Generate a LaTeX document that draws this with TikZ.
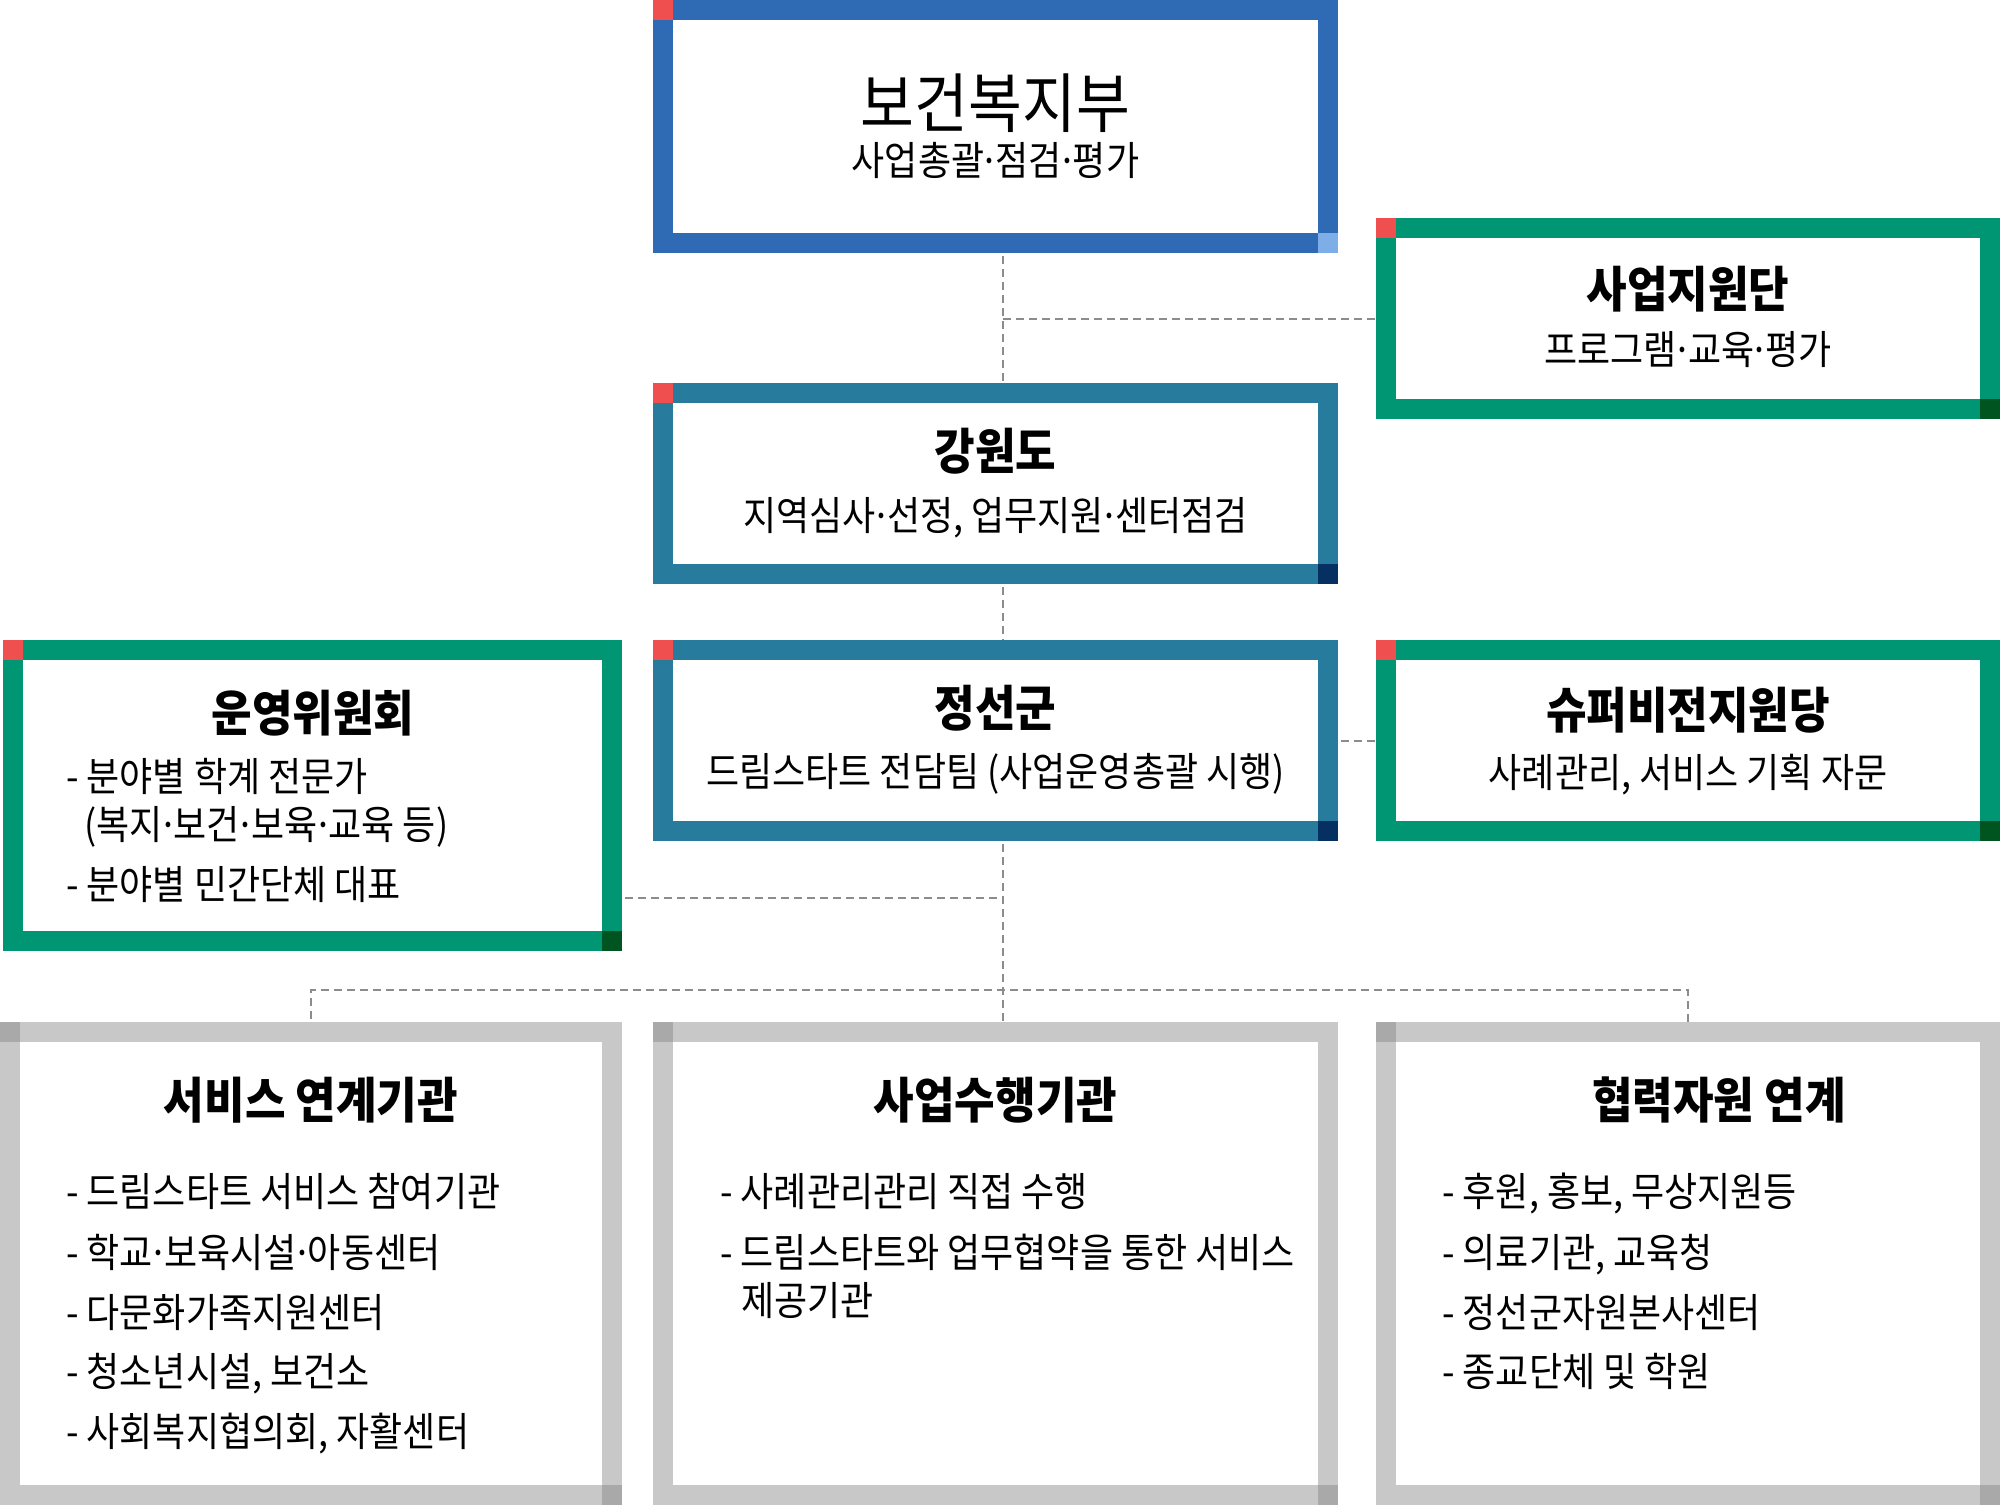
\documentclass[tikz,border=0pt]{standalone}
\usepackage{fontspec}
\setmainfont{Noto Sans CJK KR}[FakeStretch=0.9]
\usetikzlibrary{backgrounds,calc}
\definecolor{cblue}{HTML}{2F6BB5}
\definecolor{clblue}{HTML}{7EAEE8}
\definecolor{cteal}{HTML}{277C9E}
\definecolor{cnavy}{HTML}{062F62}
\definecolor{cgreen}{HTML}{009674}
\definecolor{cdgreen}{HTML}{00541F}
\definecolor{cred}{HTML}{F04F4F}
\definecolor{cgray}{HTML}{C8C8C8}
\definecolor{cdgray}{HTML}{A9A9A9}
\definecolor{cline}{HTML}{8C8C8C}
\newcommand\mdot{\makebox[0.28em]{·}}
\newcommand\mycorners[3]{%
  \fill[#2] ($(#1.north west)+(-10,-10)$) rectangle ++(20,20);
  \fill[#3] ($(#1.south east)+(-10,-10)$) rectangle ++(20,20);}
\tikzset{
  frame/.style={draw=#1, line width=20pt, fill=white, inner sep=0pt, outer sep=0pt},
  ttl/.style={inner sep=0pt, anchor=base, font=\bfseries\fontsize{49}{52}\selectfont},
  sub/.style={inner sep=0pt, anchor=base, font=\fontsize{40}{44}\selectfont},
  item/.style={inner sep=0pt, anchor=base west, font=\fontsize{40}{44}\selectfont},
  conn/.style={draw=cline, line width=2pt, dash pattern=on 8pt off 5pt}
}
\begin{document}
\begin{tikzpicture}[x=1pt,y=-1pt]
\useasboundingbox (0,0) rectangle (2004,1505);
% boxes
\node[frame=cblue, minimum width=665pt, minimum height=233pt] (mohw) at (995.5,126.5) {};
\node[frame=cgreen, minimum width=604pt, minimum height=181pt] (saup) at (1688,318.5) {};
\node[frame=cteal, minimum width=665pt, minimum height=181pt] (gw) at (995.5,483.5) {};
\node[frame=cteal, minimum width=665pt, minimum height=181pt] (js) at (995.5,740.5) {};
\node[frame=cgreen, minimum width=599pt, minimum height=291pt] (uy) at (312.5,795.5) {};
\node[frame=cgreen, minimum width=604pt, minimum height=181pt] (sv) at (1688,740.5) {};
\node[frame=cgray, minimum width=602pt, minimum height=463pt] (svc) at (311,1263.5) {};
\node[frame=cgray, minimum width=665pt, minimum height=463pt] (exe) at (995.5,1263.5) {};
\node[frame=cgray, minimum width=604pt, minimum height=463pt] (coop) at (1688,1263.5) {};
\mycorners{mohw}{cred}{clblue}
\mycorners{saup}{cred}{cdgreen}
\mycorners{gw}{cred}{cnavy}
\mycorners{js}{cred}{cnavy}
\mycorners{uy}{cred}{cdgreen}
\mycorners{sv}{cred}{cdgreen}
\mycorners{svc}{cdgray}{cdgray}
\mycorners{exe}{cdgray}{cdgray}
\mycorners{coop}{cdgray}{cdgray}
% texts
\node[inner sep=0pt, anchor=base, font=\fontsize{65}{70}\selectfont] (t1) at (995.5,127) {보건복지부};
\node[sub] (s1) at (995.5,175) {사업총괄\mdot 점검\mdot 평가};
\node[ttl] (t2) at (1688,307) {사업지원단};
\node[sub] (s2) at (1688,364) {프로그램\mdot 교육\mdot 평가};
\node[ttl] (t3) at (995.5,469) {강원도};
\node[sub] (s3) at (995.5,530) {지역심사\mdot 선정, 업무지원\mdot 센터점검};
\node[ttl] (t4) at (995.5,726) {정선군};
\node[sub] (s4) at (995.5,786) {드림스타트 전담팀 (사업운영총괄 시행)};
\node[ttl] (t5) at (313,731) {운영위원회};
\node[item] (u1) at (66,791) {- 분야별 학계 전문가};
\node[item] (u2) at (84,839) {(복지\mdot 보건\mdot 보육\mdot 교육 등)};
\node[item] (u3) at (66,899) {- 분야별 민간단체 대표};
\node[ttl] (t6) at (1688,728) {슈퍼비전지원당};
\node[sub] (s6) at (1688,787) {사례관리, 서비스 기획 자문};
\node[ttl] (t7) at (311,1118) {서비스 연계기관};
\node[item] (a1) at (66,1206) {- 드림스타트 서비스 참여기관};
\node[item] (a2) at (66,1267) {- 학교\mdot 보육시설\mdot 아동센터};
\node[item] (a3) at (66,1327) {- 다문화가족지원센터};
\node[item] (a4) at (66,1386) {- 청소년시설, 보건소};
\node[item] (a5) at (66,1446) {- 사회복지협의회, 자활센터};
\node[ttl] (t8) at (995.5,1118) {사업수행기관};
\node[item] (b1) at (720,1206) {- 사례관리관리 직접 수행};
\node[item] (b2) at (720,1267) {- 드림스타트와 업무협약을 통한 서비스};
\node[item] (b3) at (741,1315) {제공기관};
\node[ttl] (t9) at (1719,1118) {협력자원 연계};
\node[item] (c1) at (1442,1206) {- 후원, 홍보, 무상지원등};
\node[item] (c2) at (1442,1267) {- 의료기관, 교육청};
\node[item] (c3) at (1442,1327) {- 정선군자원본사센터};
\node[item] (c4) at (1442,1386) {- 종교단체 및 학원};
% connectors
\coordinate (trunk) at (1003,0);
\coordinate (ujoin) at (1003,898);
\coordinate (bus) at (1003,990);
\begin{scope}[on background layer]
\draw[conn] (mohw.south -| trunk) -- (gw.north -| trunk);
\draw[conn] (trunk |- saup.west) -- (saup.west);
\draw[conn] (gw.south -| trunk) -- (js.north -| trunk);
\draw[conn] (js.east) -- (sv.west);
\draw[conn] (js.south -| trunk) -- (exe.north -| trunk);
\draw[conn] (ujoin -| uy.east) -- (ujoin);
\draw[conn] (svc.north) -- (svc.north |- bus) -- (coop.north |- bus) -- (coop.north);
\end{scope}
\end{tikzpicture}
\end{document}
